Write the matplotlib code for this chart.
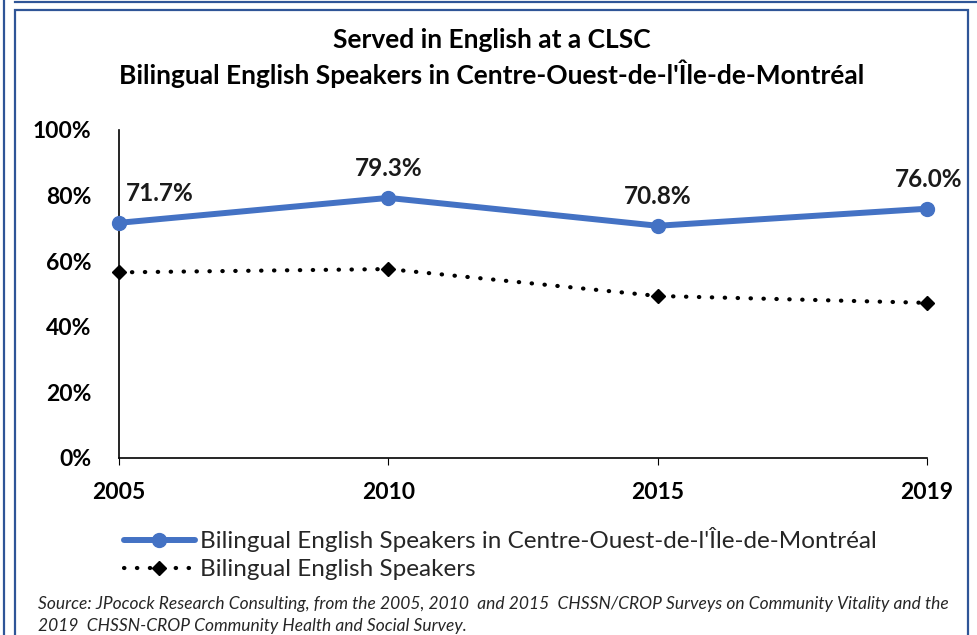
import matplotlib.pyplot as plt
from matplotlib.patches import Rectangle
from matplotlib.lines import Line2D

plt.rcParams['font.family'] = ['Lato', 'DejaVu Sans']

years = ['2005', '2010', '2015', '2019']
centre_ouest = [71.7, 79.3, 70.8, 76.0]
bilingual = [56.6, 57.6, 49.4, 47.3]
y_ticks = [0, 20, 40, 60, 80, 100]
y_tick_labels = ['0%', '20%', '40%', '60%', '80%', '100%']

title = "Served in English at a CLSC\nBilingual English Speakers in Centre-Ouest-de-l'Île-de-Montréal"
label_blue = "Bilingual English Speakers in Centre-Ouest-de-l'Île-de-Montréal"
label_black = "Bilingual English Speakers"
source = ("Source: JPocock Research Consulting, from the 2005, 2010  and 2015  CHSSN/CROP Surveys on Community Vitality and the\n"
          "2019  CHSSN-CROP Community Health and Social Survey.")

blue = '#4472C4'
frame = '#2F5597'

fig = plt.figure(figsize=(9.77, 6.35), dpi=100)
W, H = 977, 635

# frame lines around the chart
fig.patches.append(Rectangle((15 / W, -0.1), (968 - 15) / W, (H - 10) / H + 0.1,
                             transform=fig.transFigure, fill=False, edgecolor=frame, lw=1.6))
fig.add_artist(Line2D([4 / W, 4 / W], [0, 1], transform=fig.transFigure, color=frame, lw=1.6))
fig.add_artist(Line2D([15 / W, 1], [1 - 1.5 / H, 1 - 1.5 / H], transform=fig.transFigure, color=frame, lw=1.6))

ax = fig.add_axes([119 / W, 1 - 458 / H, (927 - 119) / W, (458 - 130) / H])
x = range(len(years))

ax.plot(x, bilingual, color='black', lw=3.0, linestyle=(0, (0.1, 3)), dash_capstyle='round',
        marker='D', markersize=7, clip_on=False, zorder=3, label=label_black)
ax.plot(x, centre_ouest, color=blue, lw=4.3, marker='o', markersize=10,
        solid_capstyle='round', clip_on=False, zorder=4, label=label_blue)

# data labels above the blue points (first one pushed right of the axis)
offsets = [(41, 29), (0, 29), (0, 29), (2, 29)]
for i, v in enumerate(centre_ouest):
    ax.annotate(f'{v:.1f}%', (i, v), xytext=offsets[i], textcoords='offset pixels',
                ha='center', va='center', fontsize=17.5, fontweight='bold', color='#1a1a1a')

ax.set_xlim(0, 3)
ax.set_ylim(0, 100)
ax.set_xticks(list(x))
ax.set_xticklabels(years)
ax.set_yticks(y_ticks)
ax.set_yticklabels(y_tick_labels)
for lab in ax.get_xticklabels() + ax.get_yticklabels():
    lab.set_fontweight('bold')
    lab.set_fontsize(16.5)
ax.tick_params(axis='y', length=0, pad=20)
ax.tick_params(axis='x', length=5, direction='out', pad=12)
for s in ['top', 'right']:
    ax.spines[s].set_visible(False)
ax.spines['left'].set_linewidth(1.2)
ax.spines['bottom'].set_linewidth(1.2)

fig.text(492 / W, 1 - 58 / H, title, ha='center', va='center', fontsize=19,
         fontweight='bold', linespacing=1.3)

handles, labels = ax.get_legend_handles_labels()
fig.legend(handles[::-1], labels[::-1], loc='upper left', bbox_to_anchor=(112 / W, 1 - 515 / H),
           frameon=False, fontsize=17.5, handlelength=2.9, handletextpad=0.2,
           labelspacing=0.3, borderpad=0, labelcolor='#262626')

fig.text(38 / W, 1 - 615 / H, source, ha='left', va='center', fontsize=12.5,
         style='italic', linespacing=1.4, color='#262626')

fig.savefig('out.png', dpi=100)
